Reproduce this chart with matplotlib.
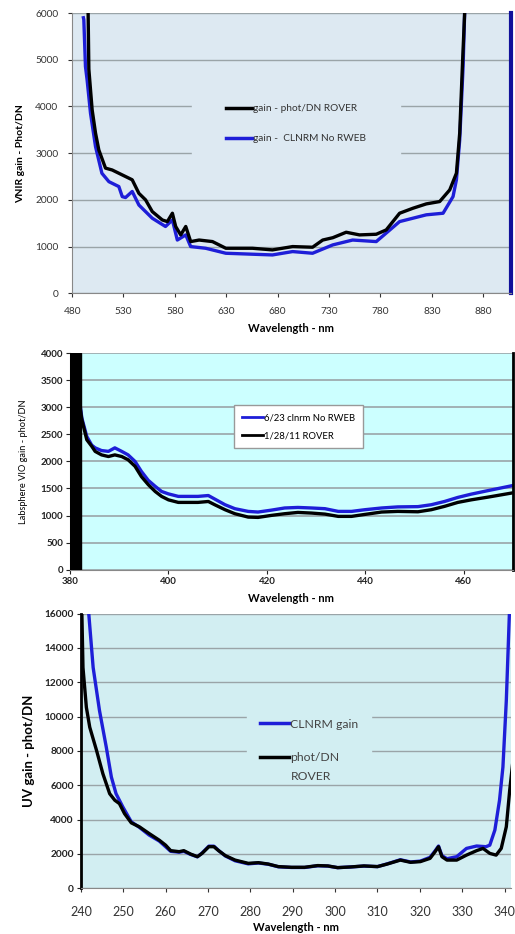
import numpy as np
import matplotlib.pyplot as plt

plt.rcParams['font.family'] = ['Lato', 'DejaVu Sans']

# VNIR panel
vnir_wl_rover = [493.7, 495.6, 496.3, 499.5, 502.8, 506, 512.5, 519, 525.5, 532, 538.5, 545, 551.5,
                 558, 567.8, 572.7, 577.6, 580.8, 585.7, 590.6, 595.4, 603.6, 616.6, 629.6, 655.6,
                 675, 694.6, 714, 723.9, 733.7, 746.7, 759.7, 776, 785.7, 798.7, 811.7, 824.7,
                 837.7, 847.5, 854, 857.2, 859.8, 862, 864]
vnir_rover = [7000, 6000, 4800, 3930, 3430, 3070, 2680, 2640, 2570, 2500, 2430, 2140, 2000,
              1750, 1570, 1535, 1714, 1430, 1250, 1430, 1107, 1140, 1107, 964, 964,
              929, 1000, 986, 1140, 1190, 1307, 1250, 1264, 1357, 1714, 1821, 1914,
              1964, 2214, 2571, 3430, 4857, 6000, 8000]
vnir_wl_clnrm = [491.0, 491.4, 493, 494.6, 497.9, 502.8, 509, 515.8, 525.5, 528.8, 532, 538.5, 545,
                 558, 570.9, 577.6, 582.4, 590.6, 595.4, 610, 629.6, 675, 694.6, 714, 733.7,
                 753, 776, 798.7, 824.7, 841, 850.7, 854, 857.2, 860.5, 862, 864]
vnir_clnrm = [5900, 5860, 4857, 4570, 3857, 3140, 2570, 2390, 2285, 2070, 2050, 2180, 1890,
              1607, 1430, 1570, 1140, 1250, 1000, 964, 857, 821, 893, 857, 1036,
              1140, 1107, 1535, 1680, 1714, 2070, 2430, 3285, 4857, 6000, 8000]

# VIO panel
vio_wl = [382, 382.4, 383.4, 384.4, 385.1, 386.4, 387.8, 389.1, 390.5, 391.8, 393.2, 394.5,
          395.9, 397.3, 398.6, 400, 402, 406, 408.1, 409.4, 411.5, 413.5, 416.2, 418.2, 420.9,
          423.6, 426.3, 429.1, 431.8, 434.5, 437.2, 439.9, 443.3, 446.6, 450.7, 453.4, 456.1,
          458.8, 461.5, 464.9, 470]
vio_rover = [3015, 2770, 2400, 2280, 2185, 2120, 2090, 2120, 2090, 2030, 1910, 1720,
             1570, 1445, 1354, 1290, 1243, 1243, 1260, 1200, 1108, 1034, 972, 966, 1003,
             1034, 1058, 1046, 1027, 985, 985, 1021, 1065, 1077, 1070, 1108, 1170,
             1243, 1290, 1340, 1420]
vio_clnrm = [3077, 2800, 2460, 2300, 2250, 2200, 2185, 2250, 2185, 2120, 2000, 1815,
             1650, 1540, 1445, 1400, 1354, 1354, 1370, 1305, 1200, 1127, 1077, 1065, 1100,
             1140, 1150, 1140, 1127, 1077, 1077, 1108, 1140, 1160, 1165, 1200, 1260,
             1335, 1395, 1460, 1555]
vio_band = [380, 382.3]

# UV panel
uv_wl_rover = [240.2, 240.5, 241.3, 242.1, 243.7, 245.2, 246.8, 248, 249.1, 250.3, 251.9, 253.8,
               256.1, 258.5, 260, 261.2, 263.2, 264.3, 265.9, 267.5, 268.6, 270.2, 271.4, 272.5,
               274.1, 276.4, 279.5, 281.9, 284.2, 286.6, 289.7, 292.8, 295.9, 298.3, 300.6,
               303.7, 306.8, 310, 312.3, 315.4, 317.8, 320.1, 322.4, 323.6, 324.4, 325.2, 326.4,
               328.7, 331, 333.4, 334.9, 336.5, 338, 339.2, 340.4, 341.2, 342]
uv_rover = [16500, 12860, 10540, 9380, 8030, 6670, 5510, 5130, 4930, 4350, 3810, 3580,
            3190, 2800, 2510, 2190, 2130, 2190, 1990, 1840, 2030, 2420, 2420, 2190,
            1900, 1640, 1450, 1490, 1410, 1260, 1220, 1220, 1320, 1300, 1200,
            1240, 1300, 1260, 1410, 1640, 1510, 1550, 1740, 2130, 2420, 1840, 1640,
            1640, 1930, 2190, 2320, 2030, 1930, 2320, 3580, 5710, 7500]
uv_wl_clnrm = [241.7, 242.9, 244.4, 246, 247.2, 248.3, 249.9, 251.9, 253.8, 256.1, 258.5, 260,
               261.2, 263.2, 264.3, 265.9, 267.5, 268.6, 270.2, 271.4, 272.5, 274.1, 276.4,
               279.5, 281.9, 284.2, 286.6, 289.7, 292.8, 295.9, 298.3, 300.6, 303.7, 306.8,
               310, 312.3, 315.4, 317.8, 320.1, 322.4, 323.6, 324.4, 325.2, 326.4, 328.7,
               331, 333.4, 335.6, 336.5, 337.7, 338.8, 339.6, 340.4, 341.2]
uv_clnrm = [16500, 12860, 10350, 8220, 6480, 5510, 4740, 3870, 3550, 3100, 2750, 2420,
            2150, 2100, 2150, 1970, 1830, 2050, 2450, 2450, 2200, 1880, 1600,
            1420, 1470, 1400, 1250, 1210, 1210, 1310, 1290, 1200, 1240, 1290,
            1260, 1420, 1660, 1530, 1580, 1800, 2180, 2460, 1900, 1720, 1840,
            2320, 2460, 2420, 2510, 3390, 5130, 7060, 10930, 16500]

bg1 = '#dde9f2'
bg2 = '#ccffff'
bg3 = '#d2eef2'
grid_c = '#9aa4a8'
blue = '#1e1ed8'

fig = plt.figure(figsize=(5.15, 9.34), dpi=100)

# ---- VNIR ----
ax1 = fig.add_axes([0.140, 0.686, 0.852, 0.300])
ax1.set_facecolor(bg1)
ax1.plot(vnir_wl_clnrm, vnir_clnrm, color=blue, lw=2.4, label='gain -  CLNRM No RWEB')
ax1.plot(vnir_wl_rover, vnir_rover, color='black', lw=2.4, label='gain - phot/DN ROVER')
ax1.set_xlim(480, 907)
ax1.set_ylim(0, 6000)
ax1.set_xticks(np.arange(480, 881, 50))
ax1.set_yticks(np.arange(0, 6001, 1000))
ax1.yaxis.grid(True, color=grid_c, lw=1)
ax1.set_axisbelow(True)
ax1.spines['top'].set_visible(False)
ax1.spines['right'].set_color('#10109a')
ax1.spines['right'].set_linewidth(3)
ax1.spines['left'].set_color('#888888')
ax1.spines['bottom'].set_color('#888888')
ax1.tick_params(labelsize=7.3, colors='#333333', length=3, pad=7)
ax1.set_xlabel('Wavelength - nm', fontsize=8, fontweight='bold', labelpad=5)
ax1.set_ylabel('VNIR gain - Phot/DN', fontsize=7.5, fontweight='bold', labelpad=7)
h, l = ax1.get_legend_handles_labels()
leg1 = ax1.legend(h[::-1], l[::-1], loc='center', bbox_to_anchor=(0.51, 0.605), fontsize=7.3,
                  frameon=True, facecolor=bg1, edgecolor=bg1, framealpha=1, handlelength=2.6,
                  handletextpad=0.1, labelspacing=2.1, borderpad=3.3, borderaxespad=0)
leg1.get_frame().set_boxstyle('square', pad=0)
for t in leg1.get_texts():
    t.set_color('#333333')
for ln in leg1.get_lines():
    ln.set_linewidth(2.5)

# ---- VIO ----
ax2 = fig.add_axes([0.136, 0.390, 0.860, 0.232])
ax2.set_facecolor(bg2)
ax2.axvspan(vio_band[0], vio_band[1], color='black', zorder=3)
ax2.plot(vio_wl, vio_clnrm, color=blue, lw=2.4, label='6/23 clnrm No RWEB')
ax2.plot(vio_wl, vio_rover, color='black', lw=2.4, label='1/28/11 ROVER')
ax2.set_xlim(380, 470)
ax2.set_ylim(0, 4000)
ax2.set_xticks(np.arange(380, 461, 20))
ax2.set_yticks(np.arange(0, 4001, 500))
ax2.yaxis.grid(True, color=grid_c, lw=1.2)
ax2.set_axisbelow(True)
ax2.spines['top'].set_visible(False)
ax2.spines['right'].set_color('black')
ax2.spines['right'].set_linewidth(2)
ax2.spines['left'].set_color('#888888')
ax2.spines['bottom'].set_color('#888888')
ax2.tick_params(labelsize=7, colors='#222222', length=3, pad=2)
for t in ax2.get_xticklabels() + ax2.get_yticklabels():
    t.set_fontweight('bold')
ax2.set_xlabel('Wavelength - nm', fontsize=8, fontweight='bold', labelpad=5)
ax2.set_ylabel('Labsphere VIO gain - phot/DN', fontsize=6.7, labelpad=9)
leg2 = ax2.legend(loc='center', bbox_to_anchor=(0.516, 0.659), fontsize=6.8, frameon=True,
                  facecolor='white', edgecolor='#999999', framealpha=1, fancybox=False,
                  handlelength=2.2, handletextpad=0.1, labelspacing=0.95, borderpad=0.85)
for ln in leg2.get_lines():
    ln.set_linewidth(2)

# ---- UV ----
ax3 = fig.add_axes([0.157, 0.049, 0.836, 0.294])
ax3.set_facecolor(bg3)
ax3.plot(uv_wl_clnrm, uv_clnrm, color=blue, lw=2.4, label='CLNRM gain')
ax3.plot(uv_wl_rover, uv_rover, color='black', lw=2.4, label='phot/DN')
ax3.set_xlim(240, 341.6)
ax3.set_ylim(0, 16000)
ax3.set_xticks(np.arange(240, 341, 10))
ax3.set_yticks(np.arange(0, 16001, 2000))
ax3.yaxis.grid(True, color=grid_c, lw=1)
ax3.set_axisbelow(True)
ax3.spines['top'].set_visible(False)
ax3.spines['right'].set_visible(False)
ax3.spines['left'].set_color('black')
ax3.spines['left'].set_linewidth(2)
ax3.spines['bottom'].set_color('#888888')
ax3.tick_params(axis='x', labelsize=9, colors='#333333', length=3, pad=10)
ax3.tick_params(axis='y', labelsize=7.3, colors='#222222', length=3, pad=2)
for t in ax3.get_yticklabels():
    t.set_fontweight('bold')
ax3.set_xlabel('Wavelength - nm', fontsize=8, fontweight='bold', labelpad=3)
ax3.set_ylabel('UV gain - phot/DN', fontsize=9.5, fontweight='bold', labelpad=7)
leg3 = ax3.legend(loc='center', bbox_to_anchor=(0.53, 0.536), fontsize=8.8, frameon=True,
                  facecolor=bg3, edgecolor=bg3, framealpha=1, handlelength=2.4,
                  handletextpad=0.1, labelspacing=1.87, borderpad=1.0, borderaxespad=0)
leg3.get_frame().set_boxstyle('square', pad=0)
for t in leg3.get_texts():
    t.set_color('#444444')
for ln in leg3.get_lines():
    ln.set_linewidth(2.5)
# second line of the ROVER legend entry
ax3.text(0.488, 0.408, 'ROVER', transform=ax3.transAxes, fontsize=8.8, color='#444444',
         ha='left', va='center', zorder=6)

fig.savefig('out.png', dpi=100)
